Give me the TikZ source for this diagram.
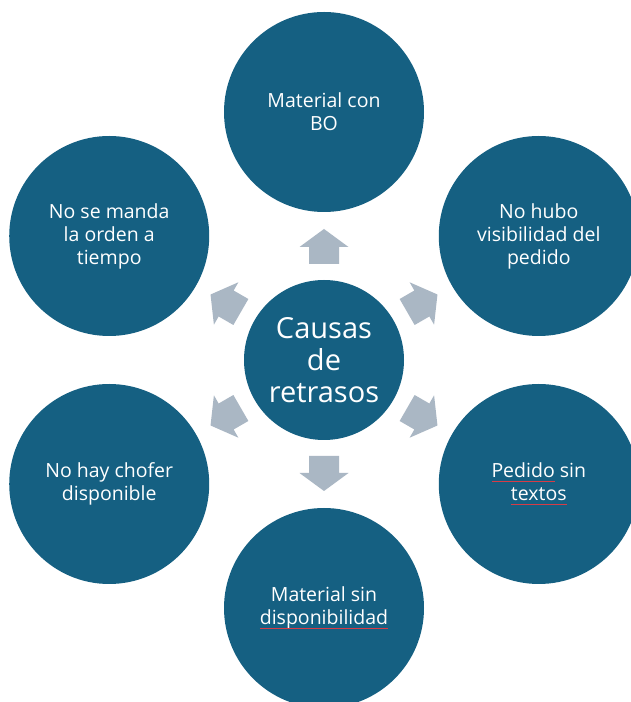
\documentclass[tikz,border=0pt]{standalone}
\usepackage{fontspec}
\setmainfont{Open Sans}
\usetikzlibrary{calc}
\definecolor{circblue}{HTML}{156082}
\definecolor{arrowgrey}{RGB}{170,183,196}
\definecolor{squiggle}{RGB}{215,60,70}
\newcommand\redul[1]{\setbox0\hbox{#1}\copy0\llap{\textcolor{squiggle}{\rule[-4pt]{\wd0}{1pt}}}\relax}
\tikzset{
  sat/.style={circle, fill=circblue, minimum size=200pt, inner sep=0pt, text=white, align=center, font=\fontsize{19.5}{23}\selectfont},
  hub/.style={circle, fill=circblue, minimum size=160pt, inner sep=0pt, text=white, align=center, font=\fontsize{29}{32}\selectfont},
  blockarrow/.style={fill=arrowgrey}
}
\begin{document}
\begin{tikzpicture}[x=1pt,y=1pt]
\useasboundingbox (0,0) rectangle (631,702);
\clip (0,0) rectangle (631,702);
\fill[white] (0,0) rectangle (631,702);
\node[hub] (c) at (324,342) {Causas\\de\\retrasos};
\node[sat] (n1) at ($(c)+(90:248)$) {Material con\\BO};
\node[sat] (n2) at ($(c)+(30:248)$) {No hubo\\visibilidad del\\pedido};
\node[sat] (n3) at ($(c)+(-30:248)$) {\redul{Pedido} sin\\\redul{textos}};
\node[sat] (n4) at ($(c)+(-90:248)$) {Material sin\\\redul{disponibilidad}};
\node[sat] (n5) at ($(c)+(-150:248)$) {No hay chofer\\disponible};
\node[sat] (n6) at ($(c)+(150:248)$) {No se manda\\la orden a\\tiempo};
\foreach \a in {90,30,-30,-90,-150,150}{
  \begin{scope}[shift={(c.center)}, rotate=\a]
    \fill[blockarrow] (96,-15) -- (113,-15) -- (113,-24.5) -- (131,0) -- (113,24.5) -- (113,15) -- (96,15) -- cycle;
  \end{scope}
}
\end{tikzpicture}
\end{document}
